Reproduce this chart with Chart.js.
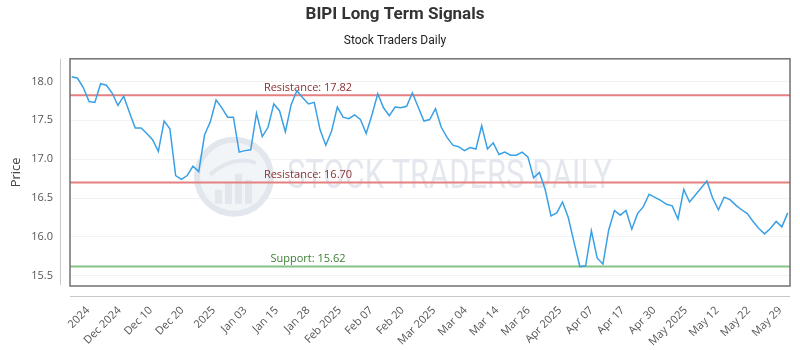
<!DOCTYPE html>
<html>
<head>
<meta charset="utf-8">
<title>BIPI Long Term Signals</title>
<script src="https://cdn.jsdelivr.net/npm/chart.js@4/dist/chart.umd.min.js"></script>
<style>
  html, body { margin: 0; padding: 0; background: #fff; }
  #wrap { width: 800px; height: 350px; }
</style>
</head>
<body>
<div id="wrap"><canvas id="chart"></canvas></div>
<script>
// daily closes, late Nov 2024 -> May 29 2025
const prices = [
  18.06, 18.04, 17.92, 17.74, 17.73, 17.97, 17.95, 17.85, 17.69, 17.81,
  17.60, 17.40, 17.40, 17.33, 17.25, 17.10, 17.49, 17.39, 16.79, 16.74,
  16.79, 16.91, 16.84, 17.31, 17.48, 17.76, 17.66, 17.54, 17.54, 17.09,
  17.11, 17.12, 17.59, 17.29, 17.41, 17.71, 17.62, 17.35, 17.70, 17.88,
  17.79, 17.71, 17.73, 17.38, 17.18, 17.36, 17.67, 17.54, 17.52, 17.57,
  17.51, 17.33, 17.57, 17.84, 17.66, 17.56, 17.67, 17.66, 17.68, 17.85,
  17.67, 17.49, 17.51, 17.65, 17.41, 17.28, 17.18, 17.16, 17.11, 17.15,
  17.13, 17.43, 17.13, 17.21, 17.06, 17.09, 17.05, 17.05, 17.09, 17.03,
  16.76, 16.83, 16.61, 16.27, 16.31, 16.45, 16.25, 15.93, 15.62, 15.63,
  16.08, 15.73, 15.65, 16.09, 16.34, 16.28, 16.34, 16.10, 16.30, 16.39,
  16.55, 16.51, 16.47, 16.42, 16.40, 16.23, 16.61, 16.45, 16.54, 16.63,
  16.72, 16.50, 16.35, 16.51, 16.48, 16.41, 16.35, 16.30, 16.20, 16.11,
  16.04, 16.11, 16.20, 16.13, 16.31
];

const xTickLabels = [
  '2024', 'Dec 2024', 'Dec 10', 'Dec 20', '2025', 'Jan 03', 'Jan 15', 'Jan 28',
  'Feb 2025', 'Feb 07', 'Feb 20', 'Mar 2025', 'Mar 04', 'Mar 14', 'Mar 26',
  'Apr 2025', 'Apr 07', 'Apr 17', 'Apr 30', 'May 2025', 'May 12', 'May 22', 'May 29'
];

const resistanceLevels = [17.82, 16.70];
const supportLevels = [15.62];

const yMin = 15.37;
const yMax = 18.29;

// where the first / last date label sits, in session units
const firstTickAt = 2.8;
const lastTickAt = 122.7;

const FONT = "'Open Sans', 'DejaVu Sans', sans-serif";

// faint logo + "STOCK TRADERS DAILY" behind the line
const watermark = {
    id: 'watermark',
    beforeDatasetsDraw(chart) {
        const { ctx, chartArea: a } = chart;
        ctx.save();
        const cx = a.left + 164, cy = a.top + 118;
        ctx.fillStyle = '#f2f5f8';
        ctx.beginPath();
        ctx.arc(cx, cy, 36, 0, Math.PI * 2);
        ctx.fill();
        ctx.strokeStyle = '#e2e7ee';
        ctx.lineWidth = 6;
        ctx.beginPath();
        ctx.arc(cx, cy, 37, 0, Math.PI * 2);
        ctx.stroke();
        ctx.fillStyle = '#e2e7ee';
        const bars = [[-19, 14], [-9, 22], [1, 30], [11, 24]];
        bars.forEach(([dx, h]) => ctx.fillRect(cx + dx, cy + 27 - h, 7, h));
        ctx.lineWidth = 4;
        ctx.beginPath();
        ctx.moveTo(cx - 24, cy - 2);
        ctx.quadraticCurveTo(cx - 2, cy - 22, cx + 22, cy - 14);
        ctx.stroke();

        ctx.fillStyle = '#e4e8ee';
        ctx.font = "38px Roboto, sans-serif";
        ctx.textBaseline = 'alphabetic';
        const txt = 'STOCK TRADERS DAILY';
        const w = ctx.measureText(txt).width;
        ctx.translate(a.left + 217, a.top + 129);
        ctx.scale(325 / w, 1.05);
        ctx.fillText(txt, 0, 0);
        ctx.restore();
    }
};

// resistance / support lines with their captions
const levels = {
    id: 'levels',
    beforeDatasetsDraw(chart) {
        const { ctx, chartArea: a, scales: { y } } = chart;
        const labelX = a.left + a.width / 3 - 2;
        const draw = (v, name, lineColor, textColor) => {
            const py = y.getPixelForValue(v);
            ctx.save();
            ctx.strokeStyle = lineColor;
            ctx.lineWidth = 2;
            ctx.beginPath();
            ctx.moveTo(a.left, py);
            ctx.lineTo(a.right, py);
            ctx.stroke();
            ctx.fillStyle = textColor;
            ctx.font = '11px ' + FONT;
            ctx.textAlign = 'center';
            ctx.textBaseline = 'bottom';
            ctx.fillText(name + ': ' + v.toFixed(2), labelX, py - 2);
            ctx.restore();
        };
        resistanceLevels.forEach(v => draw(v, 'Resistance', '#e58080', '#8b3030'));
        supportLevels.forEach(v => draw(v, 'Support', '#86c286', '#3c7d32'));
    }
};

// plot frame plus the detached axis lines
const frame = {
    id: 'frame',
    afterDraw(chart) {
        const { ctx, chartArea: a } = chart;
        ctx.save();
        ctx.strokeStyle = '#c8c8c8';
        ctx.lineWidth = 1;
        ctx.beginPath();
        ctx.moveTo(a.left - 9.5, a.top);
        ctx.lineTo(a.left - 9.5, a.bottom - 1);
        ctx.moveTo(a.left, a.bottom + 10.5);
        ctx.lineTo(a.right, a.bottom + 10.5);
        ctx.stroke();
        ctx.strokeStyle = '#707070';
        ctx.lineWidth = 1.5;
        ctx.strokeRect(a.left, a.top, a.width, a.height);
        ctx.restore();
    }
};

new Chart(document.getElementById('chart'), {
    type: 'line',
    data: {
        datasets: [{
            label: 'BIPI',
            data: prices.map((p, i) => ({ x: i, y: p })),
            borderColor: '#3aa0e6',
            borderWidth: 1.5,
            pointRadius: 0,
            tension: 0,
            fill: false
        }]
    },
    options: {
        responsive: true,
        maintainAspectRatio: false,
        animation: false,
        layout: { padding: { left: 0, right: 10, top: 0, bottom: 0 } },
        plugins: {
            legend: { display: false },
            tooltip: { enabled: false },
            title: {
                display: true,
                text: 'BIPI Long Term Signals',
                color: '#333',
                font: { family: 'Roboto, sans-serif', size: 17, weight: 'bold' },
                padding: { top: 5, bottom: 4 }
            },
            subtitle: {
                display: true,
                text: 'Stock Traders Daily',
                color: '#222',
                font: { family: 'Roboto, sans-serif', size: 12 },
                padding: { top: 4, bottom: 11 }
            }
        },
        scales: {
            x: {
                type: 'linear',
                min: -0.3,
                max: prices.length - 0.6,
                border: { display: false },
                grid: { display: false, drawTicks: false },
                afterBuildTicks: (scale) => {
                    const step = (lastTickAt - firstTickAt) / (xTickLabels.length - 1);
                    scale.ticks = xTickLabels.map((_, i) => ({ value: firstTickAt + i * step }));
                },
                afterFit: (scale) => {
                    scale.height = 64;
                    scale.paddingLeft = 0;
                    scale.paddingRight = 0;
                },
                ticks: {
                    autoSkip: false,
                    minRotation: 45,
                    maxRotation: 45,
                    padding: 18,
                    color: '#555',
                    font: { family: FONT, size: 11 },
                    callback: (value, index) => xTickLabels[index]
                }
            },
            y: {
                min: yMin,
                max: yMax,
                border: { display: false },
                grid: { color: 'rgba(0,0,0,0.05)', drawTicks: false },
                afterFit: (scale) => { scale.width = 70; },
                title: {
                    display: true,
                    text: 'Price',
                    color: '#444',
                    font: { family: FONT, size: 13 },
                    padding: { top: 8, bottom: 0 }
                },
                ticks: {
                    stepSize: 0.5,
                    includeBounds: false,
                    padding: 17,
                    color: '#555',
                    font: { family: FONT, size: 11 },
                    callback: (v) => v.toFixed(1)
                }
            }
        }
    },
    plugins: [watermark, levels, frame]
});
</script>
</body>
</html>
